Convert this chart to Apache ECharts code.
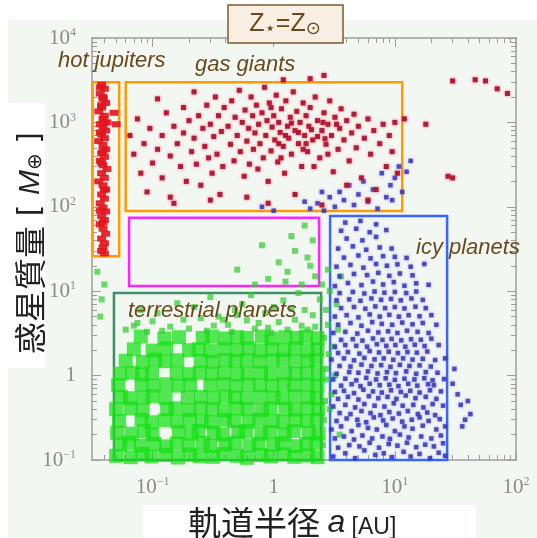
<!DOCTYPE html>
<html><head><meta charset="utf-8">
<script src="https://cdn.jsdelivr.net/npm/echarts@6/dist/echarts.min.js"></script>
<style>html,body{margin:0;padding:0;background:#fff}#c{width:537px;height:538px}</style>
</head><body><div id="c"></div>
<script>
// ---- data: [semi-major axis a (AU), planet mass (Earth masses)] ----
const hotJupiters = [[0.038,2800],[0.040,2500],[0.037,2200],[0.039,1900],[0.041,1700],[0.038,1500],[0.036,1350],[0.040,1200],[0.039,1100],[0.042,1000],[0.037,950],[0.039,880],[0.041,800],[0.038,720],[0.040,650],[0.036,600],[0.039,540],[0.041,480],[0.038,430],[0.040,390],[0.037,350],[0.039,310],[0.042,280],[0.038,250],[0.040,220],[0.036,200],[0.039,180],[0.041,160],[0.038,140],[0.040,125],[0.037,110],[0.039,98],[0.041,88],[0.038,78],[0.040,70],[0.037,62],[0.039,55],[0.041,48],[0.038,42],[0.040,37],[0.039,33],[0.038,30],[0.040,28],[0.037,2600],[0.039,2000],[0.038,1600],[0.040,1000],[0.037,760],[0.039,460],[0.038,330],[0.040,160],[0.037,90],[0.039,65],[0.048,1300],[0.050,950]];
const gasGiants = [[0.065,700],[0.07,420],[0.075,1100],[0.08,250],[0.085,560],[0.09,150],[0.095,850],[0.10,330],[0.11,1900],[0.11,480],[0.12,700],[0.12,220],[0.13,1300],[0.14,400],[0.14,130],[0.15,900],[0.16,560],[0.17,300],[0.18,1500],[0.18,750],[0.19,200],[0.2,1050],[0.21,450],[0.22,2300],[0.22,650],[0.23,320],[0.24,1200],[0.25,180],[0.26,850],[0.27,520],[0.28,1600],[0.29,380],[0.3,950],[0.31,250],[0.32,680],[0.33,2000],[0.34,420],[0.35,1200],[0.36,140],[0.37,780],[0.38,300],[0.39,1500],
[0.42,900],[0.44,550],[0.45,1800],[0.47,350],[0.48,1150],[0.5,700],[0.52,2400],[0.53,450],[0.55,1000],[0.57,230],[0.58,1400],[0.6,600],[0.62,850],[0.63,320],[0.65,2000],[0.67,1200],[0.68,480],[0.7,750],[0.72,1600],[0.74,280],[0.75,950],[0.77,560],[0.8,1300],[0.82,380],[0.84,2600],[0.86,700],[0.88,1050],[0.9,200],[0.92,1700],[0.95,460],[0.97,880],[1.0,1200],[1.02,620],[1.05,2100],[1.08,340],[1.1,1000],[1.13,760],[1.16,1450],[1.2,520],[1.23,250],[1.26,1800],[1.3,900],[1.33,650],[1.37,1150],[1.4,420],[1.45,2300],[1.5,800],[1.55,1350],[1.6,560],[1.65,1000],[1.7,300],[1.75,1700],[1.8,700],[1.85,1200],[1.9,450],[1.95,900],[2.0,1500],[2.1,620],[2.2,2000],[2.3,1050],[2.4,380],[2.5,800],[2.6,1300],[2.7,550],[2.8,950],[2.9,1800],[3.0,700],[3.1,260],[3.2,1150],[3.4,480],[3.5,850],[3.6,1450],[3.8,620],[4.0,1050],[4.2,350],[4.4,750],[4.6,1250],[4.8,500],[5.0,900],[5.3,220],[5.6,650],[6.0,1100],[6.3,420],[6.7,800],[7.0,160],[7.5,560],[8.0,950],[8.5,300],[9.0,700],[9.5,450],[10.0,1000],[10.5,250],
[0.15,110],[0.3,120],[0.6,130],[0.9,110],[1.5,140],[2.5,105],[4.0,180],[6,120],[2.0,3300],[2.6,3600],[1.2,3200],
[1.1,560],[1.25,700],[1.4,980],[1.6,760],[1.85,560],[2.05,820],[2.3,680],[2.55,1000],[2.8,420],[3.3,950],[0.95,1500],[1.15,380],[1.75,480],[2.15,300],[2.65,640],
[30,3100],[46,3200],[56,3100],[70,2500],[85,2200],[18,950],[27.5,230],[30,220],[12,1100]];
const icyPlanets = [[3.1,0.11],[3.9,0.12],[4.7,0.105],[5.6,0.13],[6.9,0.115],[8.1,0.12],[9.5,0.108],[11.8,0.125],[13.5,0.11],[16,0.118],[19.5,0.105],[23,0.122],[26,0.112],
[3.4,0.14],[4.2,0.15],[5.1,0.145],[6.2,0.16],[7.4,0.14],[8.9,0.155],[10.5,0.148],[12.6,0.16],[15,0.142],[17.8,0.152],[21,0.145],[25,0.158],
[3.2,0.18],[3.8,0.19],[4.6,0.175],[5.4,0.195],[6.5,0.18],[7.9,0.19],[9.1,0.178],[11,0.2],[13,0.185],[16.5,0.19],[20,0.18],[24,0.195],
[3.0,0.23],[3.6,0.25],[4.4,0.22],[5.0,0.26],[6.0,0.24],[7.1,0.23],[8.5,0.26],[10,0.22],[12,0.25],[14,0.235],[17,0.255],[22,0.23],[26,0.25],
[3.3,0.29],[4.0,0.31],[4.9,0.3],[5.8,0.28],[6.7,0.32],[8.0,0.295],[9.6,0.31],[11.5,0.285],[13.8,0.3],[16,0.32],[19,0.29],[23.5,0.305],
[3.5,0.36],[4.3,0.35],[5.3,0.38],[6.3,0.36],[7.6,0.34],[9.0,0.37],[10.8,0.355],[12.8,0.38],[15.5,0.35],[18.5,0.365],[21.5,0.34],
[3.1,0.43],[3.9,0.45],[4.7,0.42],[5.6,0.46],[6.8,0.44],[8.2,0.43],[9.8,0.47],[11.6,0.44],[14.2,0.45],[17.2,0.42],[20.5,0.46],[25,0.44],
[3.4,0.53],[4.1,0.56],[5.0,0.52],[6.1,0.57],[7.3,0.54],[8.7,0.56],[10.3,0.53],[12.3,0.58],[14.8,0.54],[18,0.56],[22,0.53],
[3.2,0.64],[3.8,0.66],[4.6,0.62],[5.5,0.68],[6.6,0.65],[7.8,0.63],[9.3,0.67],[11.2,0.64],[13.4,0.66],[16,0.63],[19.5,0.67],[24,0.65],
[3.6,0.76],[4.4,0.79],[5.2,0.75],[6.2,0.8],[7.5,0.77],[9.0,0.78],[10.7,0.75],[12.9,0.8],[15.3,0.76],[18.8,0.79],[21,0.77],
[3.1,0.9],[3.9,0.92],[4.8,0.88],[5.8,0.94],[7.0,0.9],[8.4,0.93],[10,0.89],[12,0.92],[14.5,0.9],[17.5,0.93],[20.5,0.88],[25.5,0.91],
[3.3,1.05],[4.2,1.1],[5.0,1.08],[6.0,1.12],[7.2,1.06],[8.6,1.1],[10.2,1.07],[12.4,1.12],[15,1.05],[18,1.1],[22.5,1.08],
[3.5,1.3],[4.3,1.28],[5.3,1.35],[6.4,1.3],[7.7,1.33],[9.2,1.27],[11,1.34],[13.2,1.3],[16,1.32],[19.8,1.28],
[3.0,1.55],[3.8,1.6],[4.6,1.52],[5.6,1.62],[6.8,1.56],[8.1,1.6],[9.7,1.54],[11.7,1.6],[14,1.55],[17,1.58],[21.5,1.53],[26,1.6],
[3.4,1.85],[4.1,1.9],[5.1,1.82],[6.2,1.95],[7.4,1.88],[8.9,1.92],[10.6,1.85],[12.7,1.9],[15.2,1.87],[18.5,1.93],
[3.2,2.2],[3.9,2.3],[4.8,2.25],[5.9,2.2],[7.1,2.35],[8.5,2.25],[10.1,2.3],[12.2,2.2],[14.6,2.32],[17.6,2.24],[23,2.3],
[3.6,2.65],[4.5,2.7],[5.4,2.6],[6.6,2.75],[7.9,2.65],[9.4,2.72],[11.3,2.62],[13.6,2.7],[16.4,2.66],[20,2.74],
[3.1,3.2],[3.9,3.3],[4.9,3.15],[6.0,3.4],[7.3,3.25],[8.8,3.35],[10.5,3.2],[12.6,3.4],[15.4,3.3],[19,3.2],
[3.4,4.0],[4.3,4.2],[5.3,3.9],[6.5,4.3],[7.8,4.1],[9.5,4.0],[11.5,4.25],[14,4.05],[17,4.2],[22,4.0],
[3.2,5.0],[4.0,5.2],[5.0,4.9],[6.2,5.3],[7.5,5.0],[9.0,5.25],[10.8,5.0],[13,5.2],[16,5.05],[20,5.2],
[3.6,6.3],[4.6,6.5],[5.7,6.2],[6.9,6.6],[8.3,6.3],[10,6.5],[12,6.25],[14.8,6.55],[18,6.3],
[3.3,7.8],[4.2,8.0],[5.2,7.7],[6.4,8.2],[7.7,7.9],[9.3,8.1],[11.2,7.8],[13.7,8.2],[17,7.9],
[3.5,9.5],[4.5,9.8],[5.6,9.4],[6.8,9.9],[8.2,9.6],[10,9.8],[12.4,9.5],[15,9.9],
[3.2,11.5],[4.1,12.5],[5.3,11.8],[6.6,13],[8.0,12],[9.8,12.8],[12,11.6],[15,12.4],[19,11.9],
[3.5,15],[4.6,16],[5.9,15.5],[7.3,16.5],[9.0,15.2],[11,16.2],[14,15.4],
[3.3,19.5],[4.3,20.5],[5.5,19],[7.0,21],[8.6,20],[10.5,20.8],[13.5,19.5],[17.5,21],
[3.8,25],[5.0,26.5],[6.3,24.5],[8.0,26],[10,25.5],[12.5,24.8],
[3.4,32],[4.5,34],[5.8,31],[7.5,33],[9.4,32],
[4.0,42],[5.4,40],[7.0,44],[3.6,52],[4.8,55],[6.2,50],[8.5,53],[3.9,65],[5.2,68],[7.0,62],
[2.0,95],[2.3,110],[2.6,90],[2.9,130],[3.2,100],[3.5,150],[3.8,120],[4.2,180],[4.6,105],[5.0,140],[5.5,200],[6.0,115],[6.6,160],[7.2,95],[7.8,250],[8.5,130],[9.2,180],[10,220],[10.8,300],[11.5,150],[12.5,260],[13.5,350],[9.5,120],[2.5,150],[1.8,115],[0.8,100],[1.0,90],
[33,0.6],[35,0.45],[38,0.3],[40,0.5],[36,0.25],[42,0.35],[30,0.8],[31,1.2]];
const terrestrialDense = [[0.050,0.112],[0.066,0.108],[0.083,0.118],[0.098,0.110],[0.128,0.115],[0.162,0.107],[0.205,0.116],[0.245,0.111],[0.315,0.109],[0.385,0.118],[0.50,0.112],[0.60,0.106],[0.78,0.115],[0.95,0.110],[1.22,0.117],[1.48,0.109],[1.92,0.113],[2.3,0.108],
[0.054,0.152],[0.064,0.16],[0.08,0.148],[0.104,0.155],[0.13,0.145],[0.158,0.157],[0.198,0.15],[0.26,0.16],[0.30,0.147],[0.40,0.153],[0.48,0.16],[0.63,0.149],[0.75,0.156],[0.99,0.151],[1.17,0.158],[1.53,0.146],[1.86,0.155],[2.25,0.16],
[0.051,0.21],[0.067,0.205],[0.085,0.22],[0.10,0.2],[0.165,0.215],[0.21,0.205],[0.24,0.22],[0.32,0.21],[0.38,0.2],[0.51,0.215],[0.59,0.22],[0.79,0.205],[0.93,0.215],[1.23,0.2],[1.46,0.22],[1.95,0.21],[2.35,0.205],
[0.053,0.29],[0.081,0.30],[0.098,0.28],[0.126,0.295],[0.16,0.285],[0.203,0.3],[0.255,0.29],[0.305,0.28],[0.395,0.3],[0.47,0.29],[0.62,0.285],[0.76,0.3],[0.98,0.29],[1.2,0.28],[1.52,0.295],[1.88,0.29],[2.28,0.3],
[0.05,0.40],[0.066,0.41],[0.083,0.39],[0.132,0.40],[0.155,0.41],[0.2,0.39],[0.25,0.415],[0.31,0.40],[0.39,0.385],[0.5,0.41],[0.61,0.40],[0.8,0.39],[0.94,0.41],[1.25,0.40],[1.5,0.395],[1.9,0.41],[2.33,0.40],
[0.055,0.56],[0.065,0.54],[0.084,0.55],[0.1,0.57],[0.128,0.54],[0.195,0.55],[0.25,0.56],[0.32,0.54],[0.4,0.565],[0.48,0.55],[0.6,0.54],[0.78,0.56],[1.0,0.55],[1.18,0.54],[1.5,0.57],[1.93,0.55],[2.27,0.54],
[0.052,0.77],[0.081,0.78],[0.102,0.76],[0.13,0.79],[0.163,0.76],[0.205,0.78],[0.3,0.77],[0.385,0.79],[0.49,0.76],[0.62,0.78],[0.77,0.77],[0.97,0.76],[1.21,0.79],[1.48,0.77],[1.9,0.78],[2.3,0.76],
[0.054,1.05],[0.068,1.08],[0.082,1.03],[0.099,1.07],[0.158,1.06],[0.2,1.04],[0.245,1.08],[0.31,1.05],[0.39,1.07],[0.5,1.03],[0.61,1.06],[0.79,1.08],[0.95,1.04],[1.24,1.06],[1.52,1.05],[1.88,1.07],[2.32,1.04],
[0.06,1.5],[0.083,1.45],[0.105,1.55],[0.127,1.48],[0.16,1.52],[0.25,1.5],[0.315,1.46],[0.4,1.53],[0.485,1.49],[0.6,1.52],[0.76,1.47],[0.98,1.51],[1.2,1.55],[1.51,1.48],[1.91,1.5],[2.26,1.53],
[0.07,2.05],[0.1,1.98],[0.13,2.1],[0.2,2.0],[0.24,2.05],[0.3,1.95],[0.39,2.08],[0.5,2.0],[0.62,2.1],[0.78,1.97],[0.97,2.05],[1.22,2.0],[1.5,2.1],[1.9,1.98],[2.3,2.05],
[0.08,2.9],[0.125,2.75],[0.165,2.85],[0.26,2.8],[0.31,2.9],[0.4,2.75],[0.5,2.85],[0.6,2.8],[0.8,2.9],[0.96,2.75],[1.25,2.85],[1.55,2.8],[1.85,2.9],[2.3,2.78]];
const terrestrialSparse = [[0.06,3.5],[0.075,4.2],[0.09,3.3],[0.11,5.5],[0.14,3.8],[0.18,4.6],[0.22,6.5],[0.28,3.4],[0.35,5.0],[0.42,4.0],[0.55,7.0],[0.7,3.6],[0.85,5.5],[1.1,4.3],[1.4,6.2],[1.7,3.9],[2.1,5.2],[2.4,8.0],[0.3,8.5],[0.65,9.0],[1.2,7.8],[0.16,7.2],[0.48,6.0],[0.95,3.2],[1.9,3.5],[0.08,6.0],[0.25,4.8],[0.6,4.5],[1.6,9.5],
[0.07,3.9],[0.1,4.4],[0.12,3.4],[0.2,3.6],[0.32,3.9],[0.38,4.6],[0.45,3.3],[0.5,5.2],[0.75,4.2],[0.9,3.7],[1.3,3.5],[1.5,4.6],[2.2,3.8],[1.0,6.5],[1.8,6.0],
[0.9,14],[1.1,22],[1.3,17],[1.5,30],[1.7,12],[1.9,25],[2.1,40],[2.2,15],[1.4,45],[1.8,60],[0.8,35],[0.7,12],[0.5,18],[1.25,13],[2.0,20],[0.035,17],[0.04,12],[0.038,8],[0.037,5],
[2.6,0.3],[2.7,1.2],[2.8,4],[2.9,10],[3.0,0.6],[3.1,2.2],[3.3,7],[3.5,0.2],[3.6,15],[2.55,0.15],[2.65,0.5],[2.75,0.9],[2.85,1.8],[2.6,2.8],[2.7,6],[2.9,0.4],[3.2,1.0],[3.4,3.5],[2.5,12],[2.8,18]];
// region boxes: [a min, a max], [M min, M max]
const boxNames = ['hot jupiters','gas giants','magenta','terrestrial planets','icy planets'];
const boxA = [[0.032,0.053],[0.060,11.5],[0.064,2.37],[0.048,2.46],[2.92,27]];
const boxM = [[26,3000],[89,3000],[11.5,74],[0.1,9.5],[0.1,78]];
const boxColors = ['#ff9a00','#ff9a00','#ff22ff','#3f8f66','#3a66ff'];
// axis tick exponents
const xTickExps = [-1,0,1,2];
const yTickExps = [-1,0,1,2,3,4];

const L = Math.log10;
const toXY = p => [L(p[0]), L(p[1])];
function minorTicks(lo, hi){ const out=[]; for(let d=Math.floor(lo); d<hi; d++){ for(let k=2;k<=9;k++){ const v=d+L(k); if(v>lo && v<hi) out.push(v);} } return out; }
const X0=-1.5, X1=2, Y0=-1, Y1=4;
const gray='#9c9c9c';
const lblRich = {
  b:{fontFamily:'Liberation Serif',fontSize:21,color:'#8a8a8a',lineHeight:22},
  s:{fontFamily:'Liberation Serif',fontSize:12,color:'#8a8a8a',lineHeight:13,verticalAlign:'top'}
};
const fmt = v => { v=Math.round(v); return v===0 ? '{b|1}' : '{b|10}{s|'+(v<0?'−'+(-v):v)+'}'; };
function axis(kind, pos, major, show){
  const isX = kind==='x';
  return {
    type:'value', min: isX?X0:Y0, max: isX?X1:Y1, interval: isX?0.5:1, position:pos,
    axisLine:{show:show, onZero:false, lineStyle:{color:gray,width:1.5}},
    axisTick:{show:true, inside:true, length: major?9:5, customValues: major ? (isX?xTickExps:yTickExps) : minorTicks(isX?X0:Y0, isX?X1:Y1), lineStyle:{color:gray,width:1}},
    axisLabel:{show: major && (pos==='bottom'||pos==='left'), customValues: isX?xTickExps:yTickExps, formatter: fmt, rich: lblRich, margin: isX?16:16},
    splitLine:{show:false}
  };
}
const chart = echarts.init(document.getElementById('c'), null, {renderer:'canvas'});
const markData = boxA.map((a,i)=>[{coord:[L(a[0]),L(boxM[i][0])], itemStyle:{color:'transparent',borderColor:boxColors[i],borderWidth:2.5}},{coord:[L(a[1]),L(boxM[i][1])]}]);
const lab = (t,x,y) => ({type:'text', x:x, y:y, z:20, style:{text:t, fill:'#6a4a1c', font:'italic 22px "Liberation Sans"', verticalAlign:'middle'}});
chart.setOption({
  animation:false,
  backgroundColor:'#f3f7f2',
  grid:{left:92, top:38, right:21, bottom:78, containLabel:false},
  xAxis:[axis('x','bottom',true,true), axis('x','bottom',false,false), axis('x','top',true,true), axis('x','top',false,false)],
  yAxis:[axis('y','left',true,true), axis('y','left',false,false), axis('y','right',true,true), axis('y','right',false,false)],
  series:[
    {type:'scatter', name:'terrestrial', data:terrestrialDense.map(toXY), symbol:'rect', symbolSize:14, itemStyle:{color:'#14e014', opacity:0.72}, z:2},
    {type:'scatter', name:'terrestrial2', data:terrestrialSparse.map(toXY), symbol:'rect', symbolSize:6, itemStyle:{color:'#2ccc2c', opacity:0.7}, z:3},
    {type:'scatter', name:'icy', data:icyPlanets.map(toXY), symbol:'rect', symbolSize:4.5, itemStyle:{color:'#3030b0', opacity:0.8, shadowBlur:3, shadowColor:'rgba(90,90,255,0.7)'}, z:4},
    {type:'scatter', name:'giants', data:gasGiants.map(toXY), symbol:'rect', symbolSize:5, itemStyle:{color:'#a8102c', opacity:0.9, shadowBlur:3, shadowColor:'rgba(255,60,80,0.8)'}, z:5},
    {type:'scatter', name:'hot', data:hotJupiters.map(toXY), symbol:'rect', symbolSize:[9,6], itemStyle:{color:'#e2141e', opacity:0.9}, z:5},
    {type:'scatter', name:'boxes', data:[], z:10, markArea:{silent:true, data:markData}}
  ],
  graphic:[
    {type:'rect', shape:{x:0,y:0,width:537,height:20}, style:{fill:'#fff'}, z:1},
    {type:'rect', shape:{x:0,y:0,width:8,height:538}, style:{fill:'#fff'}, z:1},
    {type:'rect', shape:{x:8,y:103,width:37,height:265}, style:{fill:'#fff'}, z:1},
    {type:'rect', shape:{x:143,y:505,width:333,height:33}, style:{fill:'#fff'}, z:1},
    {type:'rect', shape:{x:228,y:5,width:115,height:38}, style:{fill:'#f8eee1', stroke:'#7b5b2e', lineWidth:1.5}, z:20},
    {type:'text', x:285, y:24, z:21, style:{text:'{z|Z}{s|⋆}{z|=Z}{s|⊙}', align:'center', verticalAlign:'middle', rich:{
      z:{font:'25px "Liberation Sans"', fill:'#6a4a1c', lineHeight:28},
      s:{font:'18px "DejaVu Sans"', fill:'#6a4a1c', lineHeight:26, verticalAlign:'bottom'}}}},
    lab('hot jupiters',58,61), lab('gas giants',195,65), lab('terrestrial planets',128,311), lab('icy planets',416,248),
    {type:'text', x:188, y:521, z:21, style:{text:'{c|軌道半径 }{a|a}{u| [AU]}', verticalAlign:'middle', rich:{
      c:{font:'33px "Noto Sans CJK JP"', fill:'#222', lineHeight:36, verticalAlign:'bottom'},
      a:{font:'italic 32px "Liberation Sans"', fill:'#222', lineHeight:36, verticalAlign:'bottom'},
      u:{font:'23px "Liberation Sans"', fill:'#222', lineHeight:36, verticalAlign:'bottom'}}}},
    {type:'text', x:28, y:243, rotation:Math.PI/2, z:21, style:{text:'{c|惑星質量}{b| [ }{m|M}{o|⊕}{b| ]}', align:'center', verticalAlign:'middle', rich:{
      c:{font:'32px "Noto Sans CJK JP"', fill:'#222', lineHeight:36, verticalAlign:'bottom'},
      b:{font:'30px "DejaVu Sans"', fill:'#222', lineHeight:36, verticalAlign:'bottom'},
      m:{font:'italic 30px "Liberation Sans"', fill:'#222', lineHeight:36, verticalAlign:'bottom'},
      o:{font:'20px "DejaVu Sans"', fill:'#222', lineHeight:30, verticalAlign:'bottom'}}}}
  ]
});
</script></body></html>
